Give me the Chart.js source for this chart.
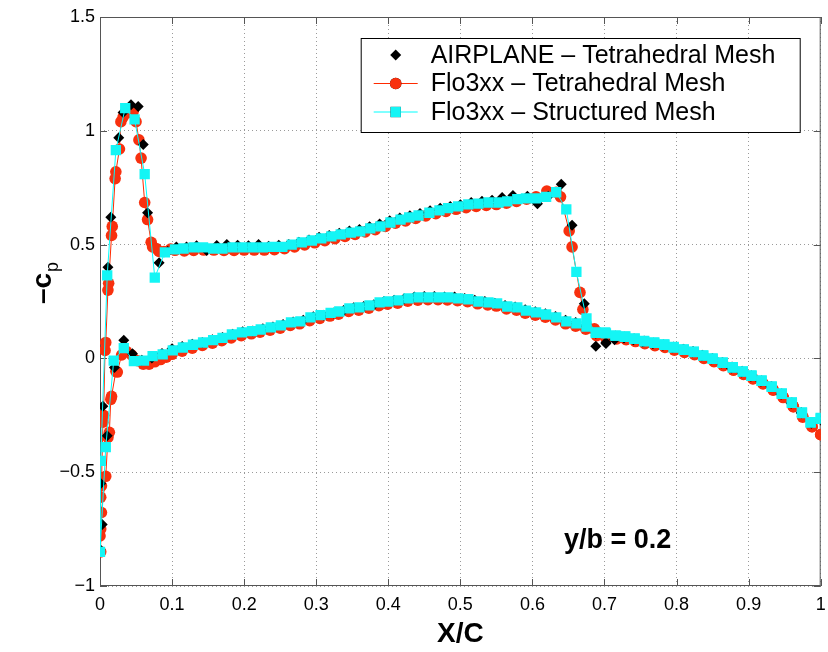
<!DOCTYPE html>
<html lang="en">
<head>
    <meta charset="UTF-8">
    <title>-Cp at y/b = 0.2</title>
    <style>
        html, body { margin: 0; padding: 0; background: #fff; }
        #chartContainer { position: relative; width: 828px; height: 652px; }
    </style>
</head>
<body>
    <div id="chartContainer">
        <canvas id="cpChart"></canvas>
    </div>

    <script src="https://cdn.jsdelivr.net/npm/chart.js"></script>
    <script>
        // Axis ticks
        const xTicks = [0, 0.1, 0.2, 0.3, 0.4, 0.5, 0.6, 0.7, 0.8, 0.9, 1];
        const yTicks = [-1, -0.5, 0, 0.5, 1, 1.5];
        const seriesNames = ['AIRPLANE \u2013 Tetrahedral Mesh', 'Flo3xx \u2013 Tetrahedral Mesh', 'Flo3xx \u2013 Structured Mesh'];
        const stationLabel = 'y/b = 0.2';

        // AIRPLANE - tetrahedral mesh, [x/c, -cp], upper surface TE -> LE
        const airUpper = [
            [1.000,-0.270],[0.987,-0.285],[0.973,-0.240],[0.959,-0.197],[0.945,-0.157],[0.931,-0.125],[0.917,-0.100],
            [0.903,-0.078],[0.890,-0.060],[0.876,-0.042],[0.862,-0.020],[0.848,-0.003],[0.835,0.012],[0.822,0.028],
            [0.808,0.038],[0.794,0.047],[0.781,0.058],[0.767,0.066],[0.753,0.073],[0.740,0.082],[0.727,0.090],
            [0.714,0.082],[0.702,0.070],[0.688,0.053],[0.672,0.240],[0.655,0.585],[0.640,0.765],[0.622,0.712],
            [0.607,0.680],[0.593,0.712],[0.573,0.716],[0.558,0.707],[0.544,0.695],[0.530,0.690],[0.515,0.685],
            [0.500,0.675],[0.486,0.667],[0.472,0.660],[0.458,0.649],[0.444,0.637],[0.430,0.627],[0.416,0.617],
            [0.402,0.605],[0.388,0.590],[0.374,0.578],[0.360,0.566],[0.346,0.560],[0.332,0.550],[0.318,0.540],
            [0.304,0.532],[0.290,0.520],[0.276,0.510],[0.262,0.500],[0.248,0.497],[0.234,0.493],[0.220,0.500],
            [0.206,0.495],[0.191,0.497],[0.176,0.500],[0.162,0.496],[0.148,0.474],[0.134,0.495],[0.120,0.490],
            [0.106,0.490],[0.094,0.470],[0.082,0.420],[0.066,0.640],[0.060,0.940],[0.053,1.107],[0.043,1.115],
            [0.032,1.080],[0.026,0.970],[0.015,0.620],[0.011,0.400],[0.004,-0.210],[0.001,-0.550],[0.000,-0.840]
        ];
        // lower surface LE -> TE
        const airLower = [
            [0.003,-0.730],[0.010,-0.340],[0.020,-0.040],[0.033,0.080],[0.045,0.020],[0.058,-0.008],[0.072,0.002],
            [0.086,0.022],[0.100,0.042],[0.114,0.052],[0.128,0.062],[0.142,0.070],[0.156,0.082],[0.170,0.092],
            [0.184,0.106],[0.198,0.117],[0.212,0.120],[0.226,0.130],[0.240,0.138],[0.254,0.149],[0.268,0.160],
            [0.282,0.168],[0.296,0.183],[0.310,0.190],[0.324,0.200],[0.338,0.210],[0.352,0.223],[0.366,0.228],
            [0.380,0.236],[0.394,0.250],[0.408,0.256],[0.422,0.262],[0.436,0.270],[0.450,0.272],[0.464,0.272],
            [0.478,0.270],[0.492,0.270],[0.506,0.263],[0.520,0.256],[0.534,0.250],[0.548,0.242],[0.562,0.232],
            [0.576,0.226],[0.590,0.214],[0.604,0.205],[0.618,0.196],[0.632,0.184],[0.646,0.168],[0.660,0.158],
            [0.674,0.145],[0.688,0.110],[0.702,0.066],[0.715,0.098],[0.728,0.094],[0.741,0.086],[0.755,0.076],
            [0.768,0.068],[0.782,0.060],[0.796,0.050],[0.810,0.040],[0.823,0.030],[0.836,0.014],[0.850,0.000],
            [0.864,-0.018],[0.877,-0.038],[0.891,-0.057],[0.904,-0.076],[0.918,-0.098],[0.932,-0.124],[0.946,-0.155],
            [0.960,-0.195],[0.973,-0.238],[0.987,-0.283],[1.000,-0.268]
        ];

        // Flo3xx - tetrahedral mesh
        const tetraUpper = [
            [1.000,-0.335],[0.988,-0.300],[0.975,-0.255],[0.962,-0.212],[0.948,-0.170],[0.934,-0.137],[0.920,-0.110],
            [0.906,-0.088],[0.893,-0.068],[0.879,-0.050],[0.865,-0.030],[0.852,-0.012],[0.838,0.004],[0.825,0.020],
            [0.811,0.032],[0.797,0.040],[0.784,0.052],[0.770,0.060],[0.756,0.068],[0.743,0.078],[0.730,0.085],
            [0.716,0.090],[0.702,0.088],[0.686,0.130],[0.670,0.215],[0.666,0.290],[0.655,0.490],[0.651,0.560],
            [0.639,0.710],[0.633,0.730],[0.620,0.735],[0.605,0.710],[0.592,0.700],[0.578,0.690],[0.564,0.682],
            [0.550,0.676],[0.536,0.672],[0.522,0.668],[0.508,0.662],[0.494,0.655],[0.480,0.646],[0.466,0.636],
            [0.452,0.626],[0.438,0.615],[0.424,0.604],[0.410,0.594],[0.396,0.580],[0.382,0.566],[0.368,0.556],
            [0.354,0.545],[0.340,0.536],[0.326,0.526],[0.312,0.517],[0.298,0.508],[0.284,0.499],[0.270,0.490],
            [0.256,0.482],[0.242,0.478],[0.228,0.476],[0.214,0.476],[0.200,0.476],[0.186,0.474],[0.172,0.474],
            [0.158,0.476],[0.144,0.476],[0.130,0.474],[0.117,0.472],[0.104,0.475],[0.098,0.480],[0.089,0.470],
            [0.082,0.470],[0.078,0.483],[0.073,0.490],[0.071,0.510],[0.066,0.610],[0.062,0.685],[0.057,0.880],
            [0.054,0.960],[0.050,1.040],[0.046,1.085],[0.039,1.080],[0.032,1.060],[0.029,1.040],[0.027,0.920],
            [0.022,0.820],[0.021,0.790],[0.017,0.580],[0.016,0.540],[0.012,0.330],[0.011,0.300],[0.008,0.070],
            [0.007,0.035],[0.005,-0.250],[0.004,-0.280],[0.002,-0.560],[0.001,-0.610],[0.001,-0.750],[0.000,-0.780],
            [0.001,-0.850]
        ];
        const tetraLower = [
            [0.002,-0.677],[0.008,-0.518],[0.011,-0.347],[0.013,-0.325],[0.015,-0.180],[0.016,-0.167],[0.022,-0.057],
            [0.024,-0.060],[0.030,0.015],[0.037,0.030],[0.044,0.015],[0.052,-0.010],[0.060,-0.025],[0.068,-0.025],
            [0.076,-0.015],[0.084,-0.005],[0.092,0.005],[0.100,0.018],[0.114,0.032],[0.128,0.045],[0.142,0.057],
            [0.156,0.067],[0.169,0.078],[0.182,0.090],[0.196,0.100],[0.210,0.108],[0.222,0.115],[0.236,0.124],
            [0.250,0.133],[0.264,0.145],[0.277,0.152],[0.291,0.166],[0.305,0.176],[0.319,0.186],[0.331,0.194],
            [0.345,0.206],[0.359,0.212],[0.373,0.221],[0.387,0.232],[0.399,0.238],[0.413,0.243],[0.427,0.251],
            [0.441,0.256],[0.455,0.258],[0.469,0.258],[0.482,0.257],[0.496,0.254],[0.510,0.249],[0.524,0.240],
            [0.538,0.235],[0.550,0.230],[0.564,0.217],[0.578,0.212],[0.590,0.199],[0.604,0.190],[0.618,0.181],
            [0.632,0.169],[0.646,0.152],[0.660,0.142],[0.674,0.128],[0.689,0.100],[0.703,0.090],[0.717,0.086],
            [0.730,0.082],[0.743,0.074],[0.756,0.065],[0.770,0.056],[0.784,0.048],[0.797,0.036],[0.811,0.026],
            [0.825,0.016],[0.838,0.000],[0.852,-0.014],[0.865,-0.032],[0.879,-0.052],[0.893,-0.070],[0.906,-0.090],
            [0.920,-0.112],[0.934,-0.140],[0.948,-0.172],[0.962,-0.212],[0.975,-0.258],[0.988,-0.300],[1.000,-0.335]
        ];

        // Flo3xx - structured mesh
        const structUpper = [
            [1.000,-0.265],[0.986,-0.280],[0.974,-0.237],[0.960,-0.193],[0.946,-0.154],[0.932,-0.123],[0.918,-0.097],
            [0.904,-0.075],[0.892,-0.057],[0.878,-0.040],[0.864,-0.018],[0.850,0.000],[0.837,0.013],[0.824,0.030],
            [0.810,0.040],[0.796,0.048],[0.783,0.062],[0.769,0.070],[0.755,0.075],[0.742,0.088],[0.729,0.097],
            [0.716,0.100],[0.702,0.110],[0.688,0.114],[0.675,0.176],[0.661,0.380],[0.647,0.655],[0.633,0.730],
            [0.619,0.710],[0.605,0.703],[0.591,0.703],[0.579,0.700],[0.565,0.690],[0.553,0.685],[0.539,0.685],
            [0.525,0.680],[0.511,0.677],[0.497,0.668],[0.483,0.660],[0.471,0.650],[0.457,0.640],[0.442,0.628],
            [0.429,0.620],[0.417,0.610],[0.403,0.597],[0.389,0.580],[0.375,0.571],[0.361,0.558],[0.348,0.553],
            [0.334,0.545],[0.321,0.536],[0.307,0.527],[0.294,0.518],[0.280,0.510],[0.266,0.500],[0.253,0.490],
            [0.240,0.490],[0.226,0.488],[0.212,0.488],[0.198,0.488],[0.184,0.488],[0.170,0.483],[0.157,0.483],
            [0.143,0.488],[0.130,0.488],[0.116,0.483],[0.104,0.479],[0.090,0.466],[0.076,0.355],[0.062,0.810],
            [0.048,1.050],[0.035,1.100],[0.022,0.915],[0.010,0.365],[0.001,-0.450],[0.000,-0.850]
        ];
        const structLower = [
            [0.008,-0.390],[0.019,-0.010],[0.033,0.045],[0.047,-0.012],[0.061,-0.010],[0.073,0.010],[0.087,0.018],
            [0.101,0.035],[0.115,0.048],[0.129,0.060],[0.143,0.070],[0.157,0.080],[0.170,0.090],[0.183,0.105],
            [0.197,0.114],[0.211,0.120],[0.223,0.127],[0.237,0.136],[0.251,0.145],[0.265,0.158],[0.278,0.163],
            [0.292,0.180],[0.306,0.190],[0.320,0.200],[0.332,0.206],[0.346,0.220],[0.360,0.224],[0.374,0.233],
            [0.388,0.246],[0.400,0.250],[0.414,0.255],[0.428,0.264],[0.442,0.268],[0.456,0.268],[0.470,0.268],
            [0.483,0.268],[0.497,0.264],[0.511,0.260],[0.525,0.250],[0.539,0.246],[0.551,0.242],[0.565,0.228],
            [0.579,0.224],[0.591,0.210],[0.605,0.202],[0.619,0.193],[0.633,0.180],[0.647,0.163],[0.661,0.154],
            [0.675,0.140],[0.688,0.112],[0.701,0.114],[0.715,0.100],[0.728,0.095],[0.741,0.086],[0.755,0.077],
            [0.769,0.068],[0.783,0.060],[0.796,0.050],[0.810,0.038],[0.824,0.028],[0.837,0.012],[0.850,-0.002],
            [0.864,-0.020],[0.878,-0.038],[0.892,-0.058],[0.904,-0.077],[0.918,-0.099],[0.932,-0.125],[0.946,-0.156],
            [0.960,-0.195],[0.974,-0.240],[0.986,-0.282],[1.000,-0.262]
        ];

        const FONT = '"Liberation Sans", Arial, Helvetica, sans-serif';
        const toPoints = (upper, lower) => upper.concat(lower).map(p => ({ x: p[0], y: p[1] }));
        const fmt = v => String(v).replace('-', '\u2212');

        // frame, inner ticks, legend box, y title and station label
        const cpDecor = {
            id: 'cpDecor',
            beforeDatasetsDraw(chart) {
                const { ctx, chartArea: a, scales } = chart;
                ctx.save();
                ctx.strokeStyle = '#555';
                ctx.lineWidth = 1;
                ctx.strokeRect(a.left + 0.5, a.top + 0.5, a.right - a.left - 1, a.bottom - a.top - 1);
                ctx.beginPath();
                xTicks.forEach(v => {
                    const x = Math.round(scales.x.getPixelForValue(v)) + 0.5;
                    ctx.moveTo(x, a.bottom); ctx.lineTo(x, a.bottom - 7);
                    ctx.moveTo(x, a.top); ctx.lineTo(x, a.top + 7);
                });
                yTicks.forEach(v => {
                    const y = Math.round(scales.y.getPixelForValue(v)) + 0.5;
                    ctx.moveTo(a.left, y); ctx.lineTo(a.left + 7, y);
                    ctx.moveTo(a.right, y); ctx.lineTo(a.right - 7, y);
                });
                ctx.stroke();
                ctx.restore();
            },
            afterDraw(chart) {
                const { ctx, chartArea: a } = chart;
                ctx.save();

                // legend
                const bx = a.right - 460, by = a.top + 21, bw = 439, bh = 94;
                ctx.fillStyle = '#fff';
                ctx.fillRect(bx, by, bw, bh);
                ctx.strokeStyle = '#000';
                ctx.lineWidth = 1;
                ctx.strokeRect(bx + 0.5, by + 0.5, bw, bh);
                ctx.font = '25px ' + FONT;
                ctx.textBaseline = 'middle';
                chart.data.datasets.forEach((ds, i) => {
                    const y = by + 17 + i * 28.5;
                    const mx = bx + 35;
                    if (ds.showLine !== false) {
                        ctx.strokeStyle = ds.borderColor;
                        ctx.lineWidth = 1;
                        ctx.beginPath();
                        ctx.moveTo(bx + 13, y); ctx.lineTo(bx + 57, y);
                        ctx.stroke();
                    }
                    Chart.helpers.drawPoint(ctx, {
                        pointStyle: ds.pointStyle,
                        radius: ds.pointRadius,
                        borderWidth: 0
                    }, mx, y);
                    ctx.fillStyle = ds.pointBackgroundColor;
                    ctx.fill();
                    ctx.fillStyle = '#000';
                    ctx.fillText(ds.label, bx + 70, y + 1);
                });

                // y axis title: -c with subscript p
                ctx.translate(51, 304);
                ctx.rotate(-Math.PI / 2);
                ctx.fillStyle = '#000';
                ctx.textBaseline = 'alphabetic';
                ctx.font = 'bold 28px ' + FONT;
                ctx.textAlign = 'left';
                ctx.fillText('\u2013c', 0, 0);
                ctx.font = '18px ' + FONT;
                ctx.fillText('p', 32, 7);
                ctx.setTransform(1, 0, 0, 1, 0, 0);

                // station label
                ctx.font = 'bold 27px ' + FONT;
                ctx.textAlign = 'left';
                ctx.fillText(stationLabel, 564, 548);
                ctx.restore();
            }
        };

        const ctx = document.getElementById('cpChart').getContext('2d');
        const chart = new Chart(ctx, {
            type: 'line',
            data: {
                datasets: [
                    {
                        label: seriesNames[0],
                        data: toPoints(airUpper, airLower),
                        showLine: false,
                        pointStyle: 'rectRot',
                        pointRadius: 5.5,
                        pointBackgroundColor: '#000',
                        pointBorderWidth: 0,
                        borderColor: '#000',
                        order: 1
                    },
                    {
                        label: seriesNames[1],
                        data: toPoints(tetraUpper, tetraLower),
                        borderColor: '#ff2a00',
                        borderWidth: 1,
                        pointStyle: 'circle',
                        pointRadius: 5.8,
                        pointBackgroundColor: '#f8300e',
                        pointBorderWidth: 0,
                        order: 2
                    },
                    {
                        label: seriesNames[2],
                        data: toPoints(structUpper, structLower),
                        borderColor: '#00ffff',
                        borderWidth: 1,
                        pointStyle: 'rect',
                        pointRadius: 7.3,
                        pointBackgroundColor: '#14f5f5',
                        pointBorderWidth: 0,
                        order: 0
                    }
                ]
            },
            options: {
                responsive: true,
                maintainAspectRatio: false,
                animation: false,
                events: [],
                layout: { padding: { left: 0, right: 6, top: 17, bottom: 0 } },
                elements: { line: { tension: 0 } },
                scales: {
                    x: {
                        type: 'linear',
                        min: 0,
                        max: 1,
                        afterBuildTicks: s => { s.ticks = xTicks.map(v => ({ value: v })); },
                        afterFit: s => { s.height = 66; s.paddingLeft = 0; s.paddingRight = 0; },
                        ticks: {
                            callback: v => fmt(v),
                            color: '#000',
                            font: { family: FONT, size: 18 },
                            padding: 8,
                            maxRotation: 0,
                            autoSkip: false
                        },
                        grid: { color: '#9a9a9a', lineWidth: 1, drawTicks: false },
                        border: { display: false, dash: [1, 3] },
                        title: {
                            display: true,
                            text: 'X/C',
                            color: '#000',
                            font: { family: FONT, size: 28, weight: 'bold' },
                            padding: { top: 0, bottom: 1 }
                        }
                    },
                    y: {
                        type: 'linear',
                        min: -1,
                        max: 1.5,
                        afterBuildTicks: s => { s.ticks = yTicks.map(v => ({ value: v })); },
                        afterFit: s => { s.width = 100; s.paddingTop = 0; s.paddingBottom = 0; },
                        ticks: {
                            callback: v => fmt(v),
                            color: '#000',
                            font: { family: FONT, size: 18 },
                            padding: 5,
                            autoSkip: false
                        },
                        grid: { color: '#9a9a9a', lineWidth: 1, drawTicks: false },
                        border: { display: false, dash: [1, 3] }
                    }
                },
                plugins: {
                    legend: { display: false },
                    tooltip: { enabled: false }
                }
            },
            plugins: [cpDecor]
        });
    </script>
</body>
</html>
